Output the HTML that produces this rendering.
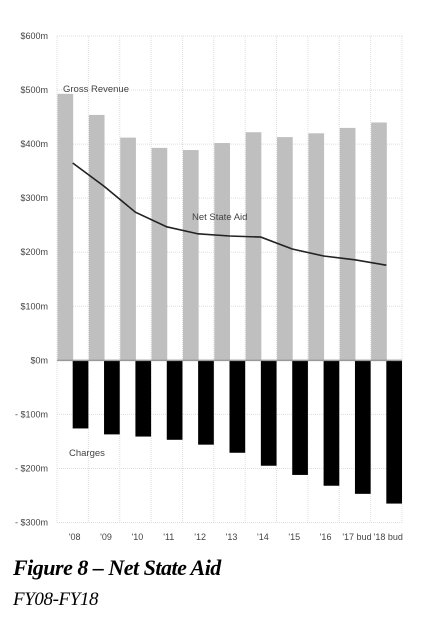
<!DOCTYPE html>
<html><head><meta charset="utf-8"><style>
body{margin:0;background:#fff;width:429px;height:628px;overflow:hidden}
svg text{font-family:"Liberation Sans Narrow","Liberation Sans",sans-serif;fill:#444}
.t{position:absolute;left:13px;font-family:"Liberation Serif",serif;font-style:italic;color:#000;white-space:nowrap}
</style></head><body>
<svg id="chart" width="429" height="628" style="position:absolute;left:0;top:0"></svg>
<div class="t" style="top:555px;font-size:22px;font-weight:bold;letter-spacing:-0.5px">Figure 8 – Net State Aid</div>
<div class="t" style="top:589px;font-size:19px;letter-spacing:-0.4px">FY08-FY18</div>
<script>
const categories=["'08","'09","'10","'11","'12","'13","'14","'15","'16","'17 bud","'18 bud"];
const grossRevenue=[493,454,412,393,389,402,422,413,420,430,440];
const charges=[-126,-137,-141,-147,-156,-171,-195,-212,-232,-247,-265];
const netStateAid=[365,322,274,247,234,230,228,206,193,186,176];
const yTicks=[600,500,400,300,200,100,0,-100,-200,-300];
const yTickLabels=["$600m","$500m","$400m","$300m","$200m","$100m","$0m","- $100m","- $200m","- $300m"];
const NS='http://www.w3.org/2000/svg';
const svg=document.getElementById('chart');
const L=57,R=402,T=36,B=522.5,ymin=-300,ymax=600;
const cw=(R-L)/categories.length;
const y=v=>T+(ymax-v)/(ymax-ymin)*(B-T);
const xc=i=>L+cw*(i+0.5);
function mk(tag,attrs){const e=document.createElementNS(NS,tag);for(const k in attrs)e.setAttribute(k,attrs[k]);svg.appendChild(e);return e;}
yTicks.forEach((v,i)=>{
  const g=mk('line',{x1:L,x2:R,y1:y(v),y2:y(v),stroke:'#ddd','stroke-width':1,'stroke-dasharray':'1 1'});
  
  
  const t=mk('text',{x:48,y:y(v)+3,'text-anchor':'end','font-size':9});
  t.textContent=yTickLabels[i];
  
  
});
for(let i=0;i<=categories.length;i++){
  const g=mk('line',{x1:L+cw*i,x2:L+cw*i,y1:T,y2:B,stroke:'#ddd','stroke-width':1,'stroke-dasharray':'1 1'});
  
  
}
categories.forEach((c,i)=>{
  const b=mk('rect',{x:L+cw*i+0.5,y:y(grossRevenue[i]),width:cw/2,height:y(0)-y(grossRevenue[i]),fill:'#bfbfbf'});
  
  
  const c2=mk('rect',{x:xc(i),y:y(0),width:cw/2,height:y(charges[i])-y(0),fill:'#000'});
  
  
  const t=mk('text',{x:xc(i)+2,y:540,'text-anchor':'middle','font-size':9});
  t.textContent=c;
  
  
});
const z=mk('line',{x1:L,x2:R,y1:y(0),y2:y(0),stroke:'#999','stroke-width':1.5});


const p=mk('polyline',{points:netStateAid.map((v,i)=>xc(i)+','+y(v)).join(' '),fill:'none',stroke:'#222','stroke-width':1.6});


[["Gross Revenue",63,92,'gross-revenue-label'],["Net State Aid",192,220,'net-state-aid-label'],["Charges",69,456,'charges-label']].forEach(a=>{
  const t=mk('text',{x:a[1],y:a[2],'font-size':9.5});
  t.textContent=a[0];
  
  
});
</script>
</body></html>
